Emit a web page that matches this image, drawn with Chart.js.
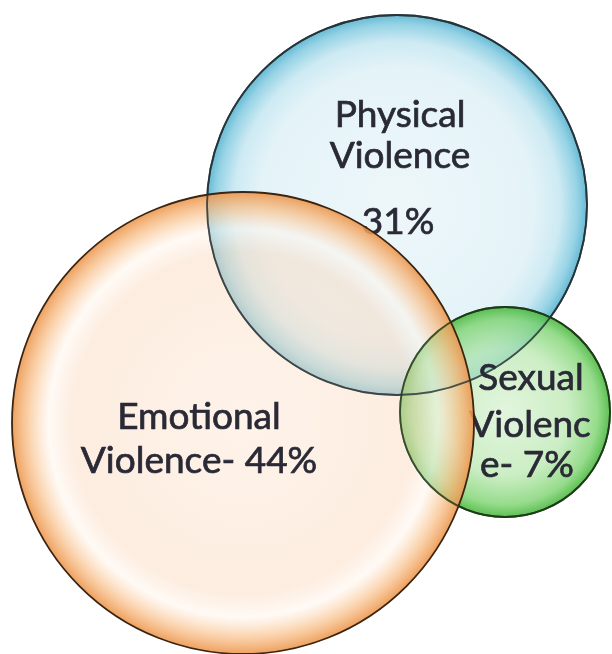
<!DOCTYPE html>
<html>
<head>
<meta charset="utf-8">
<script src="https://cdn.jsdelivr.net/npm/chart.js@4.4.0/dist/chart.umd.min.js"></script>
<style>
  html, body { margin: 0; padding: 0; background: #ffffff; }
  #wrap { width: 612px; height: 654px; }
</style>
</head>
<body>
<div id="wrap"><canvas id="c" width="612" height="654"></canvas></div>
<script>
// ---- data ----
const categories = ['Physical Violence', 'Emotional Violence', 'Sexual Violence'];
const percents   = [31, 44, 7];
const centerX    = [397, 243, 505];   // circle centres in diagram units
const centerY    = [205, 423, 412];
const radii      = [190, 231, 105];   // circle radii
const labelLines = [
  ['Physical', 'Violence', '31%'],
  ['Emotional', 'Violence- 44%'],
  ['Sexual', 'Violenc', 'e- 7%']
];

// ---- styles ----
const styles = [
  { stops: [[0, 'rgba(238,247,250,1)'], [0.72, 'rgba(228,243,248,1)'], [0.86, 'rgba(205,234,243,1)'], [0.95, 'rgba(150,211,229,1)'], [1, 'rgba(104,186,212,1)']],
    border: '#25343a', text: { dx: [3, 3, 1], dy: [-78, -37, 29] } },
  { stops: [[0, 'rgba(253,231,213,0.5)'], [0.74, 'rgba(251,219,193,0.5)'], [0.84, 'rgba(255,246,238,0.55)'], [0.93, 'rgba(248,191,136,0.72)'], [1, 'rgba(236,150,76,0.9)']],
    border: '#3b2412', text: { dx: [-44, -44], dy: [6, 50] } },
  { stops: [[0, 'rgba(215,242,209,0.72)'], [0.6, 'rgba(184,231,174,0.72)'], [0.88, 'rgba(124,211,111,0.8)'], [1, 'rgba(70,182,58,0.88)']],
    border: '#1d3c19', text: { dx: [26, 25, 22], dy: [-22, 25, 65] } }
];
const TEXT_FONT = '37px Lato, "Open Sans", sans-serif';
const TEXT_COLOR = '#2a2a36';

function makeFill(i) {
  return function (ctx) {
    const chart = ctx.chart;
    const xs = chart.scales && chart.scales.x, ys = chart.scales && chart.scales.y;
    const fallback = styles[i].stops[1][1];
    if (!xs || !ys) return fallback;
    const cx = xs.getPixelForValue(centerX[i]);
    const cy = ys.getPixelForValue(centerY[i]);
    if (!isFinite(cx) || !isFinite(cy)) return fallback;
    const g = chart.ctx.createRadialGradient(cx, cy, 0, cx, cy, radii[i]);
    styles[i].stops.forEach(s => g.addColorStop(s[0], s[1]));
    return g;
  };
}

// Chart.js draws higher `order` first: blue, then green, then orange on top
const drawOrder = [3, 1, 2];

const datasets = categories.map((name, i) => ({
  label: name + ' ' + percents[i] + '%',
  data: [{ x: centerX[i], y: centerY[i], r: radii[i] }],
  backgroundColor: makeFill(i),
  borderColor: styles[i].border,
  borderWidth: 1.8,
  hoverBorderWidth: 1.8,
  order: drawOrder[i],
  clip: false
}));

function drawLabel(chart, i) {
  const c = chart.ctx;
  const xs = chart.scales.x, ys = chart.scales.y;
  const cx = xs.getPixelForValue(centerX[i]);
  const cy = ys.getPixelForValue(centerY[i]);
  c.save();
  c.fillStyle = TEXT_COLOR;
  c.strokeStyle = TEXT_COLOR;
  c.lineWidth = 0.7;
  c.textAlign = 'center';
  c.textBaseline = 'alphabetic';
  c.font = TEXT_FONT;
  labelLines[i].forEach((line, k) => {
    const x = cx + styles[i].text.dx[k];
    const y = cy + styles[i].text.dy[k];
    c.fillText(line, x, y);
    c.strokeText(line, x, y);
  });
  c.restore();
}

function restroke(chart, i) {
  const meta = chart.getDatasetMeta(i);
  const c = chart.ctx;
  meta.data.forEach(el => {
    c.save();
    c.beginPath();
    c.arc(el.x, el.y, el.options.radius, 0, Math.PI * 2);
    c.strokeStyle = el.options.borderColor;
    c.lineWidth = el.options.borderWidth;
    c.globalAlpha = 0.8;
    c.stroke();
    c.restore();
  });
}

const labelPlugin = {
  id: 'vennLabels',
  afterDatasetDraw(chart, args) {
    // after green (index 2) is drawn, place Physical and Sexual labels (under the orange circle)
    if (args.index === 2) { drawLabel(chart, 0); drawLabel(chart, 2); }
  },
  afterDatasetsDraw(chart) {
    restroke(chart, 0);
    restroke(chart, 2);
    drawLabel(chart, 1);
  }
};

new Chart(document.getElementById('c'), {
  type: 'bubble',
  data: { datasets },
  options: {
    responsive: false,
    devicePixelRatio: 1,
    animation: false,
    layout: { padding: 0, autoPadding: false },
    plugins: { legend: { display: false }, tooltip: { enabled: false } },
    events: [],
    scales: {
      x: { type: 'linear', min: 0, max: 612, display: false },
      y: { type: 'linear', min: 0, max: 654, reverse: true, display: false }
    }
  },
  plugins: [labelPlugin]
});
</script>
</body>
</html>
